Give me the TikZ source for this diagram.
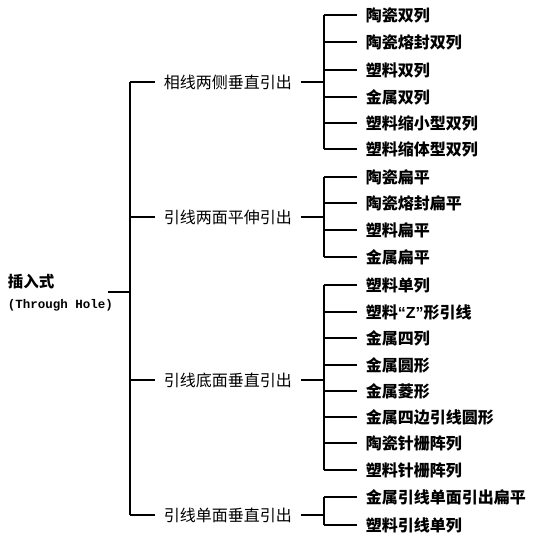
\documentclass[tikz,border=0pt]{standalone}
\usepackage{fontspec}
\newfontfamily\cjk{Noto Sans CJK SC}
\newfontfamily\monofam{Liberation Mono}
\newfontfamily\qfam{Liberation Sans}
\begin{document}
\begin{tikzpicture}[x=1pt,y=-1pt,line width=1.6pt,
  txt/.style={anchor=west,inner xsep=8pt,inner ysep=0pt,font=\cjk\fontsize{16}{16}\selectfont},
  leaf/.style={txt,font=\cjk\bfseries\fontsize{16}{16}\selectfont}]
\useasboundingbox[fill=white] (0,0) rectangle (539,550);
% root
\node[anchor=west,inner sep=0pt,font=\cjk\bfseries\fontsize{15.5}{16}\selectfont] (rootcn) at (7,282) {插入式};
\node[anchor=west,inner sep=0pt,font=\monofam\bfseries\fontsize{12.5}{14}\selectfont] (rooten) at (7,305) {(Through Hole)};
\coordinate (rootend) at (108,292);
\coordinate (tr) at (130,292);
\coordinate (t1) at (130,82);
\coordinate (t2) at (130,217);
\coordinate (t3) at (130,380);
\coordinate (t4) at (130,515);
\draw (rootend) -- (tr);
\draw (t1) -- (t4);
% level 1
\node[txt] (a) at (155,82) {相线两侧垂直引出};
\node[txt] (b) at (155,217) {引线两面平伸引出};
\node[txt] (c) at (155,380) {引线底面垂直引出};
\node[txt] (d) at (155,515) {引线单面垂直引出};
\coordinate (ja) at (324,82);
\coordinate (jb) at (324,217);
\coordinate (jc) at (324,380);
\coordinate (jd) at (324,515);
\foreach \p/\t/\j in {a/t1/ja,b/t2/jb,c/t3/jc,d/t4/jd}{
  \draw (\t) -- (\p.west);
  \draw (\p.east) -- (\j);
}
% group a
\foreach \n/\y/\s in {a1/15/陶瓷双列,a2/42/陶瓷熔封双列,a3/70/塑料双列,a4/97/金属双列,a5/123/塑料缩小型双列,a6/149/塑料缩体型双列}{
  \node[leaf] (\n) at (357,\y) {\s};
  \draw (\n.west) -- (\n.west -| ja);
}
\draw (a1.west -| ja) -- (a6.west -| ja);
% group b
\foreach \n/\y/\s in {b1/177/陶瓷扁平,b2/203/陶瓷熔封扁平,b3/230/塑料扁平,b4/257/金属扁平}{
  \node[leaf] (\n) at (357,\y) {\s};
  \draw (\n.west) -- (\n.west -| jb);
}
\draw (b1.west -| jb) -- (b4.west -| jb);
% group c
\foreach \n/\y/\s in {c1/285/塑料单列,c2/312/塑料{\qfam“Z”}形引线,c3/338/金属四列,c4/365/金属圆形,c5/391/金属菱形,c6/417/金属四边引线圆形,c7/443/陶瓷针栅阵列,c8/470/塑料针栅阵列}{
  \node[leaf] (\n) at (357,\y) {\s};
  \draw (\n.west) -- (\n.west -| jc);
}
\draw (c1.west -| jc) -- (c8.west -| jc);
% group d
\foreach \n/\y/\s in {d1/497/金属引线单面引出扁平,d2/525/塑料引线单列}{
  \node[leaf] (\n) at (357,\y) {\s};
  \draw (\n.west) -- (\n.west -| jd);
}
\draw (d1.west -| jd) -- (d2.west -| jd);
\end{tikzpicture}
\end{document}
